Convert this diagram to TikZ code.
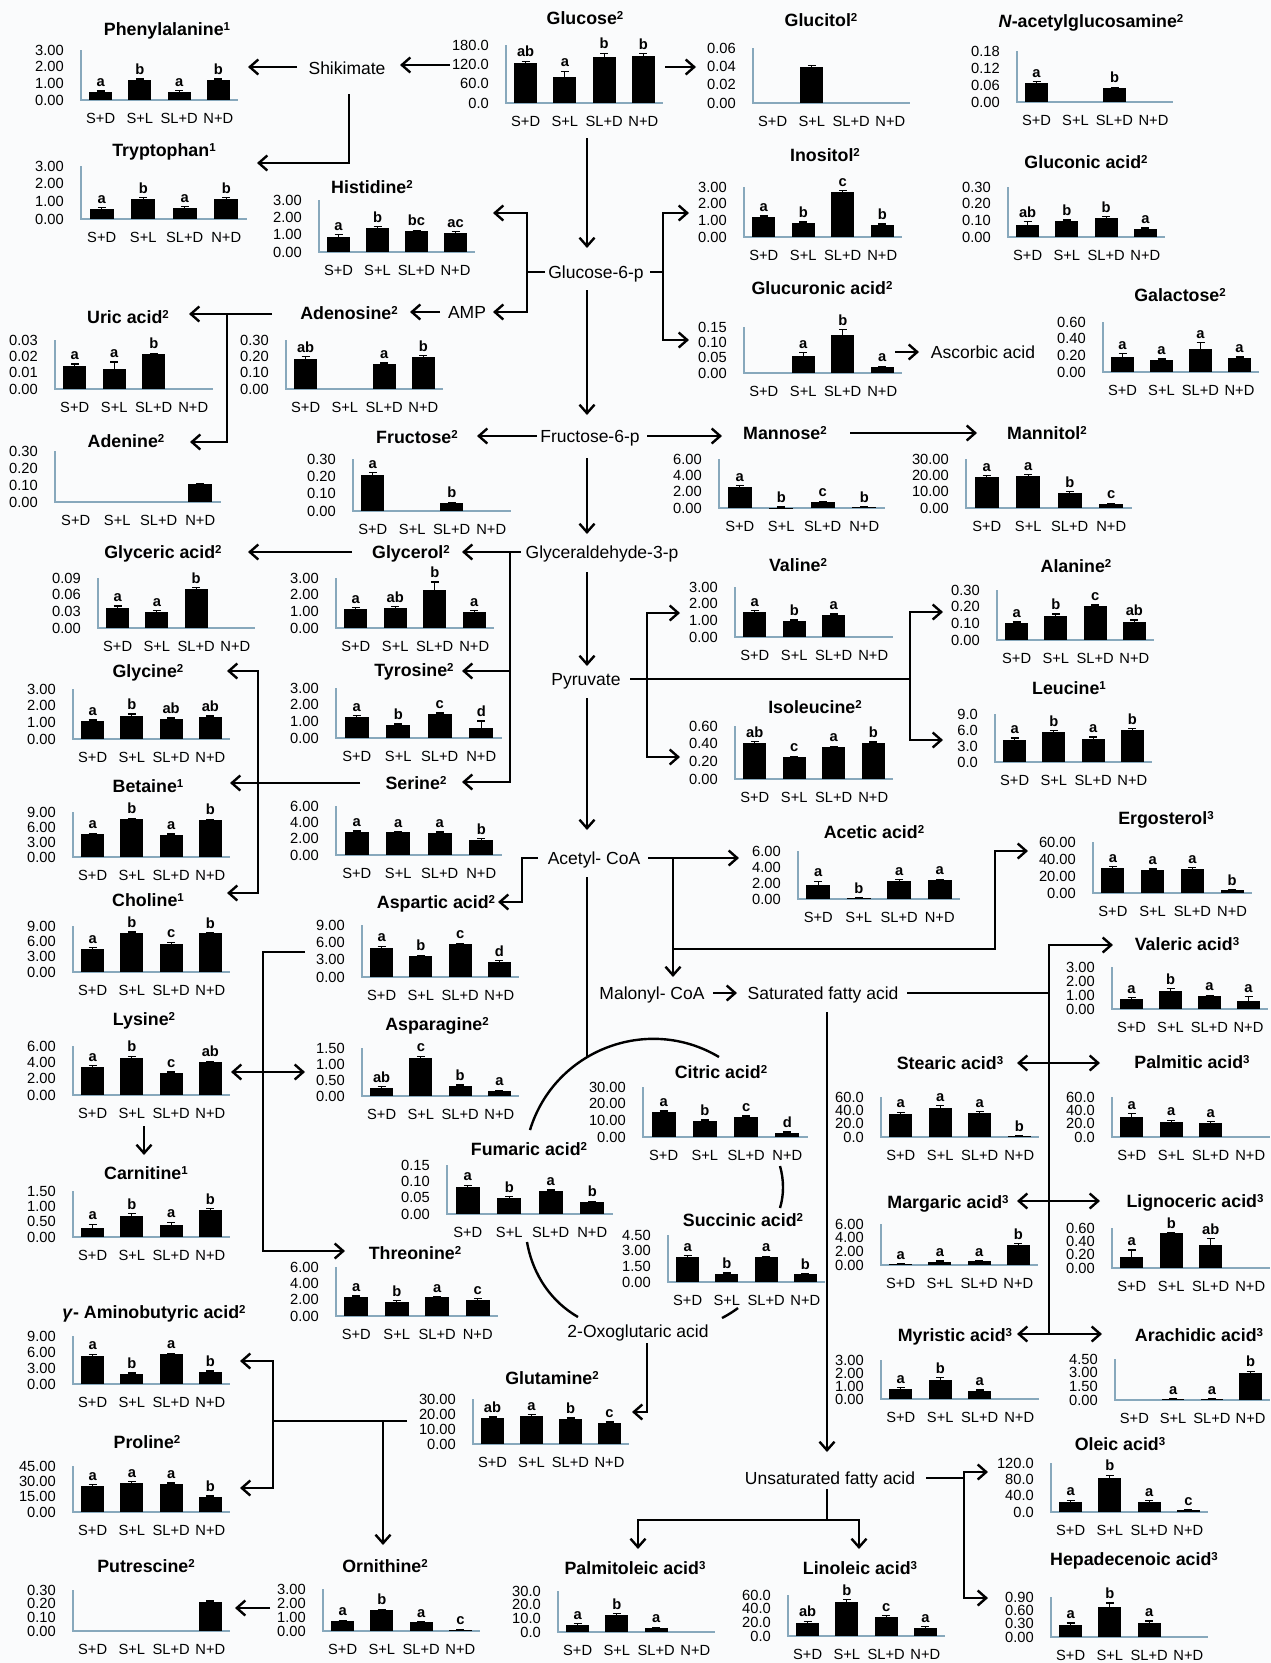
\documentclass[tikz,border=0pt]{standalone}
\usepackage{fontspec}
\setmainfont{Liberation Sans}
\usetikzlibrary{arrows.meta}
\definecolor{bgc}{RGB}{250,251,252}
\definecolor{axc}{RGB}{135,168,188}
\newcommand{\sps}[1]{\raisebox{4.6pt}{\fontsize{11.5}{12}\selectfont #1}}
\tikzset{
 axisline/.style={draw=axc,line width=1.3pt},
 tick/.style={anchor=east,inner sep=0pt,font=\fontsize{14.7}{15}\selectfont},
 cat/.style={inner sep=0pt,font=\fontsize{14.7}{15}\selectfont},
 lett/.style={anchor=south,inner sep=0pt,font=\fontsize{14.7}{15}\selectfont\bfseries},
 ttl/.style={anchor=base,yshift=-6.3pt,inner sep=0pt,font=\fontsize{17.8}{18}\selectfont\bfseries},
 pth/.style={anchor=base,yshift=-6.3pt,inner sep=0pt,font=\fontsize{17.5}{18}\selectfont},
 errb/.style={line width=1.2pt},
 ln/.style={line width=2.4pt},
 arr/.style={line width=2.4pt,-{Straight Barb[length=8.5pt,width=15pt]}},
 darr/.style={line width=2.4pt,{Straight Barb[length=8.5pt,width=15pt]}-{Straight Barb[length=8.5pt,width=15pt]}},
}
% #1 x0, #2 y0, #3 width, #4 height, #5 ticks, #6 bars f/e/l, #7 name, #8 title pos, #9 title
\newcommand{\chart}[9]{%
 \node[ttl] (#7) at (#8) {#9};
 \begin{scope}[shift={(#1,#2)}]
  \pgfmathsetmacro\cw{#3}\pgfmathsetmacro\ch{#4}
  \draw[axisline] (0,-\ch) -- (0,0) -- (\cw,0);
  \foreach \t [count=\k from 0] in {#5} {\node[tick] at (-17,{-\ch+\k*\ch/3}) {\t};}
  \foreach \c [count=\k from 0] in {S+D,S+L,SL+D,N+D} {\node[cat] at ({(\k+0.5)*\cw/4},18.5) {\c};}
  \foreach \f/\e/\l [count=\k from 0] in {#6} {
    \pgfmathsetmacro\cx{(\k+0.5)*\cw/4}
    \pgfmathsetmacro\bw{0.073*\cw}
    \pgfmathsetmacro\yt{-\f*\ch}
    \pgfmathsetmacro\ye{-(\f+\e)*\ch}
    \ifdim\f pt>0pt
      \fill ({\cx-\bw},0) rectangle ({\cx+\bw},\yt);
      \draw[errb] (\cx,\yt) -- (\cx,\ye) ({\cx-4},\ye) -- ({\cx+4},\ye);
      \node[lett] at (\cx,{\ye-4}) {\l};
    \fi
  }
 \end{scope}}
\begin{document}
\begin{tikzpicture}[x=1pt,y=-1pt]
\fill[bgc] (0,0) rectangle (1271,1663);
\useasboundingbox (0,0) rectangle (1271,1663);

% ---------- charts ----------
\chart{81}{100}{157}{50}{3.00,2.00,1.00,0.00}{0.16/0.02/a,0.40/0.02/b,0.17/0.02/a,0.40/0.02/b}{phe}{167,29}{Phenylalanine\sps{1}}
\chart{81}{219}{166}{53}{3.00,2.00,1.00,0.00}{0.19/0.02/a,0.38/0.02/b,0.21/0.02/a,0.38/0.02/b}{trp}{164,150}{Tryptophan\sps{1}}
\chart{319}{252}{156}{52}{3.00,2.00,1.00,0.00}{0.29/0.04/a,0.46/0.03/b,0.40/0.02/bc,0.37/0.02/ac}{his}{372,187}{Histidine\sps{2}}
\chart{55}{389}{158}{49}{0.03,0.02,0.01,0.00}{0.47/0.04/a,0.41/0.14/a,0.71/0.02/b,0/0/{}}{uri}{128,317}{Uric acid\sps{2}}
\chart{286}{389}{157}{49}{0.30,0.20,0.10,0.00}{0.61/0.05/ab,0/0/{},0.51/0.02/a,0.66/0.02/b}{ado}{349,313}{Adenosine\sps{2}}
\chart{506}{103}{157}{58}{180.0,120.0,60.0,0.0}{0.69/0.03/ab,0.45/0.10/a,0.79/0.07/b,0.81/0.04/b}{glc}{585,18}{Glucose\sps{2}}
\chart{753}{103}{157}{55}{0.06,0.04,0.02,0.00}{0/0/{},0.65/0.03/{},0/0/{},0/0/{}}{gtl}{821,20}{Glucitol\sps{2}}
\chart{744}{237}{158}{50}{3.00,2.00,1.00,0.00}{0.40/0.02/a,0.28/0.02/b,0.90/0.03/c,0.24/0.02/b}{ino}{825,155}{Inositol\sps{2}}
\chart{744}{373}{158}{46}{0.15,0.10,0.05,0.00}{0/0/{},0.37/0.07/a,0.83/0.11/b,0.13/0.02/a}{gcr}{822,288}{Glucuronic acid\sps{2}}
\chart{1017}{102}{156}{51}{0.18,0.12,0.06,0.00}{0.37/0.03/a,0/0/{},0.27/0.02/b,0/0/{}}{nag}{1091,21}{\textit{N}-acetylglucosamine\sps{2}}
\chart{1008}{237}{157}{50}{0.30,0.20,0.10,0.00}{0.24/0.07/ab,0.32/0.02/b,0.38/0.03/b,0.16/0.02/a}{gcn}{1086,162}{Gluconic acid\sps{2}}
\chart{1103}{372}{156}{50}{0.60,0.40,0.20,0.00}{0.30/0.07/a,0.24/0.02/a,0.46/0.13/a,0.28/0.02/a}{gal}{1180,295}{Galactose\sps{2}}
\chart{55}{502}{166}{51}{0.30,0.20,0.10,0.00}{0/0/{},0/0/{},0/0/{},0.35/0.02/{}}{ade}{126,441}{Adenine\sps{2}}
\chart{353}{511}{158}{52}{0.30,0.20,0.10,0.00}{0.69/0.05/a,0/0/{},0.15/0.02/b,0/0/{}}{fru}{417,437}{Fructose\sps{2}}
\chart{719}{508}{166}{49}{6.00,4.00,2.00,0.00}{0.43/0.03/a,0.01/0.01/b,0.12/0.02/c,0.02/0.01/b}{man}{785,433}{Mannose\sps{2}}
\chart{966}{508}{166}{49}{30.00,20.00,10.00,0.00}{0.63/0.03/a,0.65/0.03/a,0.31/0.02/b,0.08/0.02/c}{mtl}{1047,433}{Mannitol\sps{2}}
\chart{98}{628}{157}{50}{0.09,0.06,0.03,0.00}{0.40/0.04/a,0.32/0.03/a,0.78/0.03/b,0/0/{}}{gla}{163,552}{Glyceric acid\sps{2}}
\chart{336}{628}{158}{50}{3.00,2.00,1.00,0.00}{0.38/0.03/a,0.40/0.03/ab,0.76/0.16/b,0.32/0.03/a}{glol}{411,552}{Glycerol\sps{2}}
\chart{73}{739}{157}{50}{3.00,2.00,1.00,0.00}{0.36/0.02/a,0.46/0.04/b,0.40/0.02/ab,0.44/0.02/ab}{gly}{148,671}{Glycine\sps{2}}
\chart{336}{738}{166}{50}{3.00,2.00,1.00,0.00}{0.42/0.03/a,0.26/0.02/b,0.48/0.02/c,0.20/0.14/d}{tyr}{414,670}{Tyrosine\sps{2}}
\chart{73}{857}{157}{45}{9.00,6.00,3.00,0.00}{0.51/0.02/a,0.84/0.02/b,0.49/0.02/a,0.82/0.02/b}{bet}{148,786}{Betaine\sps{1}}
\chart{336}{855}{166}{49}{6.00,4.00,2.00,0.00}{0.47/0.02/a,0.46/0.02/a,0.45/0.02/a,0.31/0.02/b}{ser}{416,783}{Serine\sps{2}}
\chart{735}{637}{158}{50}{3.00,2.00,1.00,0.00}{0.50/0.03/a,0.32/0.02/b,0.44/0.02/a,0/0/{}}{val}{798,565}{Valine\sps{2}}
\chart{735}{779}{158}{53}{0.60,0.40,0.20,0.00}{0.68/0.03/ab,0.41/0.02/c,0.60/0.02/a,0.68/0.02/b}{ile}{815,707}{Isoleucine\sps{2}}
\chart{997}{640}{157}{50}{0.30,0.20,0.10,0.00}{0.34/0.02/a,0.48/0.04/b,0.68/0.02/c,0.36/0.04/ab}{ala}{1076,566}{Alanine\sps{2}}
\chart{995}{762}{157}{48}{9.0,6.0,3.0,0.0}{0.46/0.04/a,0.63/0.02/b,0.48/0.04/a,0.67/0.02/b}{leu}{1069,688}{Leucine\sps{1}}
\chart{1093}{893}{159}{51}{60.00,40.00,20.00,0.00}{0.49/0.03/a,0.45/0.02/a,0.47/0.03/a,0.05/0.02/b}{erg}{1166,818}{Ergosterol\sps{3}}
\chart{798}{899}{162}{48}{6.00,4.00,2.00,0.00}{0.29/0.08/a,0.02/0.01/b,0.38/0.02/a,0.39/0.02/a}{ace}{874,832}{Acetic acid\sps{2}}
\chart{362}{977}{157}{52}{9.00,6.00,3.00,0.00}{0.56/0.03/a,0.40/0.02/b,0.63/0.02/c,0.29/0.02/d}{asp}{436,902}{Aspartic acid\sps{2}}
\chart{73}{972}{157}{46}{9.00,6.00,3.00,0.00}{0.50/0.03/a,0.85/0.02/b,0.61/0.04/c,0.84/0.02/b}{cho}{148,900}{Choline\sps{1}}
\chart{73}{1095}{157}{49}{6.00,4.00,2.00,0.00}{0.57/0.03/a,0.75/0.04/b,0.45/0.02/c,0.67/0.02/ab}{lys}{144,1019}{Lysine\sps{2}}
\chart{362}{1096}{157}{48}{1.50,1.00,0.50,0.00}{0.17/0.02/ab,0.79/0.04/c,0.21/0.02/b,0.10/0.02/a}{asn}{437,1024}{Asparagine\sps{2}}
\chart{1112}{1009}{156}{42}{3.00,2.00,1.00,0.00}{0.24/0.03/a,0.43/0.05/b,0.31/0.02/a,0.19/0.10/a}{vlr}{1187,944}{Valeric acid\sps{3}}
\chart{881}{1137}{158}{40}{60.0,40.0,20.0,0.0}{0.57/0.05/a,0.72/0.06/a,0.60/0.03/a,0.02/0.01/b}{ste}{950,1063}{Stearic acid\sps{3}}
\chart{1112}{1137}{158}{40}{60.0,40.0,20.0,0.0}{0.50/0.08/a,0.38/0.04/a,0.35/0.04/a,0/0/{}}{pal}{1192,1062}{Palmitic acid\sps{3}}
\chart{643}{1137}{165}{50}{30.00,20.00,10.00,0.00}{0.50/0.02/a,0.32/0.02/b,0.40/0.02/c,0.08/0.02/d}{cit}{721,1072}{Citric acid\sps{2}}
\chart{447}{1214}{166}{49}{0.15,0.10,0.05,0.00}{0.55/0.04/a,0.33/0.02/b,0.47/0.02/a,0.24/0.02/b}{fum}{529,1149}{Fumaric acid\sps{2}}
\chart{73}{1237}{157}{46}{1.50,1.00,0.50,0.00}{0.20/0.08/a,0.46/0.05/b,0.26/0.06/a,0.59/0.03/b}{car}{146,1173}{Carnitine\sps{1}}
\chart{881}{1265}{157}{41}{6.00,4.00,2.00,0.00}{0.03/0.01/a,0.08/0.02/a,0.09/0.02/a,0.49/0.03/b}{mar}{948,1202}{Margaric acid\sps{3}}
\chart{1112}{1268}{158}{40}{0.60,0.40,0.20,0.00}{0.28/0.17/a,0.87/0.02/b,0.58/0.15/ab,0/0/{}}{lig}{1195,1201}{Lignoceric acid\sps{3}}
\chart{668}{1282}{157}{47}{4.50,3.00,1.50,0.00}{0.53/0.03/a,0.17/0.02/b,0.53/0.02/a,0.16/0.02/b}{suc}{743,1220}{Succinic acid\sps{2}}
\chart{336}{1316}{162}{49}{6.00,4.00,2.00,0.00}{0.39/0.02/a,0.29/0.02/b,0.38/0.02/a,0.33/0.02/c}{thr}{415,1253}{Threonine\sps{2}}
\chart{881}{1399}{158}{39}{3.00,2.00,1.00,0.00}{0.26/0.03/a,0.49/0.06/b,0.21/0.02/a,0/0/{}}{myr}{955,1335}{Myristic acid\sps{3}}
\chart{1115}{1400}{155}{41}{4.50,3.00,1.50,0.00}{0/0/{},0.03/0.01/a,0.02/0.01/a,0.66/0.04/b}{ara}{1199,1335}{Arachidic acid\sps{3}}
\chart{73}{1384}{157}{48}{9.00,6.00,3.00,0.00}{0.58/0.04/a,0.21/0.02/b,0.62/0.02/a,0.25/0.02/b}{gab}{154,1312}{\textit{γ}- Aminobutyric acid\sps{2}}
\chart{473}{1444}{156}{45}{30.00,20.00,10.00,0.00}{0.58/0.02/ab,0.62/0.03/a,0.56/0.02/b,0.47/0.02/c}{gln}{552,1378}{Glutamine\sps{2}}
\chart{1051}{1512}{157}{49}{120.0,80.0,40.0,0.0}{0.20/0.04/a,0.69/0.06/b,0.20/0.03/a,0.04/0.01/c}{ole}{1120,1444}{Oleic acid\sps{3}}
\chart{73}{1512}{157}{46}{45.00,30.00,15.00,0.00}{0.57/0.02/a,0.63/0.03/a,0.61/0.02/a,0.33/0.02/b}{pro}{147,1442}{Proline\sps{2}}
\chart{73}{1631}{157}{41}{0.30,0.20,0.10,0.00}{0/0/{},0/0/{},0/0/{},0.70/0.03/{}}{put}{146,1566}{Putrescine\sps{2}}
\chart{323}{1631}{157}{42}{3.00,2.00,1.00,0.00}{0.24/0.02/a,0.50/0.02/b,0.21/0.02/a,0.03/0.01/c}{orn}{385,1566}{Ornithine\sps{2}}
\chart{558}{1632}{157}{41}{30.0,20.0,10.0,0.0}{0.17/0.03/a,0.41/0.04/b,0.10/0.02/a,0/0/{}}{plt}{635,1568}{Palmitoleic acid\sps{3}}
\chart{788}{1636}{157}{41}{60.0,40.0,20.0,0.0}{0.32/0.04/ab,0.83/0.06/b,0.46/0.04/c,0.20/0.03/a}{lin}{860,1568}{Linoleic acid\sps{3}}
\chart{1051}{1637}{157}{40}{0.90,0.60,0.30,0.00}{0.30/0.05/a,0.75/0.10/b,0.35/0.05/a,0/0/{}}{hep}{1134,1559}{Hepadecenoic acid\sps{3}}

% ---------- pathway labels ----------
\node[pth] (shik) at (347,68) {Shikimate};
\node[pth] (amp) at (467,312) {AMP};
\node[pth] (g6p) at (596,272) {Glucose-6-p};
\node[pth] (f6p) at (590,436) {Fructose-6-p};
\node[pth] (g3p) at (602,552) {Glyceraldehyde-3-p};
\node[pth] (pyr) at (586,679) {Pyruvate};
\node[pth] (acoa) at (594,858) {Acetyl- CoA};
\node[pth] (mcoa) at (652,993) {Malonyl- CoA};
\node[pth] (sfa) at (823,993) {Saturated fatty acid};
\node[pth] (asc) at (983,352) {Ascorbic acid};
\node[pth] (oxo) at (638,1331) {2-Oxoglutaric acid};
\node[pth] (ufa) at (830,1478) {Unsaturated fatty acid};

% ---------- connector points ----------
\foreach \n/\x/\y in {gS/450/65, shE/400/65, shW/297/67, pheE/248/67, shS/349/94, shC/349/163, trpE/257/163,
 glcR/665/67, gtlW/696/67, glcB/587/138, g6pT/587/248, g6pW/545/272, jL/527/272, jLt/527/213, hisE/493/213,
 jLb/527/312, ampE/493/312, ampW/440/312, adoE/410/312, adoW/272/314, uriE/189/314, jA/227/314, jAb/227/442, adeE/190/442,
 g6pE/650/272, jR/663/272, jRt/663/213, inoW/689/213, jRb/663/340, gcrW/689/340, gcrR/895/352, ascW/919/352,
 g6pB/587/290, f6pT/587/415, f6pW/537/436, fruE/477/436, f6pE/647/436, manW/722/436, manE/850/433, mtlW/977/433,
 f6pB/587/458, g3pT/587/534, g3pW/521/552, jG/510/552, glyE/462/552, jGm/510/671, tyrE/462/671, jGb/510/782, serE/462/782,
 glolW/352/552, glaE/248/552, jY/258/671, gcnE/227/671, jYb/258/893, choE/227/893, serW/360/783, betE/230/783,
 g3pB/587/572, pyrT/587/666, pyrE/630/679, jP2/910/679, jP1t/647/613, valW/680/613, jP1b/647/757, ileW/680/757,
 jP2t/910/612, alaW/943/612, jP2b/910/740, leuW/943/740, pyrB/587/698, acT/587/830,
 acE/648/858, aceW/739/858, jC/673/858, mcT/673/977, jCm/673/949, jE/995/949, jEt/995/851, ergW/1028/851,
 acW/538/858, jD/522/858, jDb/522/902, aspE/498/902, acB/587/877, arcM/587/1057,
 mcE/713/993, sfaW/737/993, sfaE/907/993, jF/1049/993, jFt/1049/945, valrW/1113/945, jFb/1049/1334,
 steE/1017/1063, palW/1100/1063, marE/1017/1201, ligW/1100/1201, myrE/1017/1334, araW/1102/1334,
 sfaB/827/1012, ufaT/827/1452, aspW/305/952, jH/263/952, jHb/263/1251, thrW/345/1251,
 lysE/231/1072, asnW/305/1072, lysB/144/1126, carT/144/1155,
 oxoB/647/1343, jO/647/1412, glnE/632/1412, glnW/407/1421, jQ/273/1421, jQt/273/1361, gabE/240/1361,
 jQb/273/1488, proE/240/1488, jR2/383/1421, ornT/383/1545, ornW/270/1608, putE/235/1608,
 ufaB/827/1489, jU/827/1520, jUl/638/1520, pltT/638/1549, jUr/859/1520, linT/859/1549,
 ufaE/926/1478, jV/964/1478, jVt/964/1472, oleW/988/1472, jVb/964/1598, hepW/988/1598}
 {\coordinate (\n) at (\x,\y);}

% ---------- connectors ----------
\draw[arr] (gS) -- (shE);
\draw[arr] (shW) -- (pheE);
\draw[arr] (shS) -- (shC) -- (trpE);
\draw[arr] (glcR) -- (gtlW);
\draw[arr] (glcB) -- (g6pT);
\draw[ln] (g6pW) -- (jL);
\draw[arr] (jLb) -- (jLt) -- (hisE);
\draw[arr] (jLt) -- (jLb) -- (ampE);
\draw[arr] (ampW) -- (adoE);
\draw[arr] (adoW) -- (uriE);
\draw[arr] (jA) -- (jAb) -- (adeE);
\draw[ln] (g6pE) -- (jR);
\draw[arr] (jRb) -- (jRt) -- (inoW);
\draw[arr] (jRt) -- (jRb) -- (gcrW);
\draw[arr] (gcrR) -- (ascW);
\draw[arr] (g6pB) -- (f6pT);
\draw[arr] (f6pW) -- (fruE);
\draw[arr] (f6pE) -- (manW);
\draw[arr] (manE) -- (mtlW);
\draw[arr] (f6pB) -- (g3pT);
\draw[arr] (g3pW) -- (glyE);
\draw[arr] (jG) -- (jGb) -- (serE);
\draw[arr] (jGm) -- (tyrE);
\draw[arr] (glolW) -- (glaE);
\draw[arr] (jYb) -- (jY) -- (gcnE);
\draw[arr] (jY) -- (jYb) -- (choE);
\draw[arr] (serW) -- (betE);
\draw[arr] (g3pB) -- (pyrT);
\draw[ln] (pyrE) -- (jP2);
\draw[arr] (jP1b) -- (jP1t) -- (valW);
\draw[arr] (jP1t) -- (jP1b) -- (ileW);
\draw[arr] (jP2b) -- (jP2t) -- (alaW);
\draw[arr] (jP2t) -- (jP2b) -- (leuW);
\draw[arr] (pyrB) -- (acT);
\draw[arr] (acE) -- (aceW);
\draw[arr] (jC) -- (mcT);
\draw[arr] (jCm) -- (jE) -- (jEt) -- (ergW);
\draw[arr] (acW) -- (jD) -- (jDb) -- (aspE);
\draw[ln] (acB) -- (arcM);
\draw[arr] (mcE) -- (sfaW);
\draw[ln] (sfaE) -- (jF);
\draw[arr] (jFb) -- (jFt) -- (valrW);
\draw[darr] (steE) -- (palW);
\draw[darr] (marE) -- (ligW);
\draw[darr] (myrE) -- (araW);
\draw[arr] (sfaB) -- (ufaT);
\draw[arr] (aspW) -- (jH) -- (jHb) -- (thrW);
\draw[darr] (lysE) -- (asnW);
\draw[arr] (lysB) -- (carT);
\draw[arr] (oxoB) -- (jO) -- (glnE);
\draw[ln] (glnW) -- (jQ);
\draw[arr] (jQb) -- (jQt) -- (gabE);
\draw[arr] (jQt) -- (jQb) -- (proE);
\draw[arr] (jR2) -- (ornT);
\draw[arr] (ornW) -- (putE);
\draw[ln] (ufaB) -- (jU);
\draw[arr] (jUr) -- (jUl) -- (pltT);
\draw[arr] (jUl) -- (jUr) -- (linT);
\draw[ln] (ufaE) -- (jV);
\draw[arr] (jVb) -- (jVt) -- (oleW);
\draw[arr] (jVt) -- (jVb) -- (hepW);

% ---------- TCA cycle arcs ----------
\draw[ln] (530,1130) .. controls (554.4,1050.1) and (647.6,1014.3) .. (719,1057);
\draw[ln] (780,1166) .. controls (784,1180) and (784,1195) .. (780,1208);
\draw[ln] (722,1318) .. controls (728,1315) and (734,1311) .. (738,1308);
\draw[ln] (527,1242) .. controls (533,1276) and (552,1302) .. (578,1317);
\end{tikzpicture}
\end{document}
